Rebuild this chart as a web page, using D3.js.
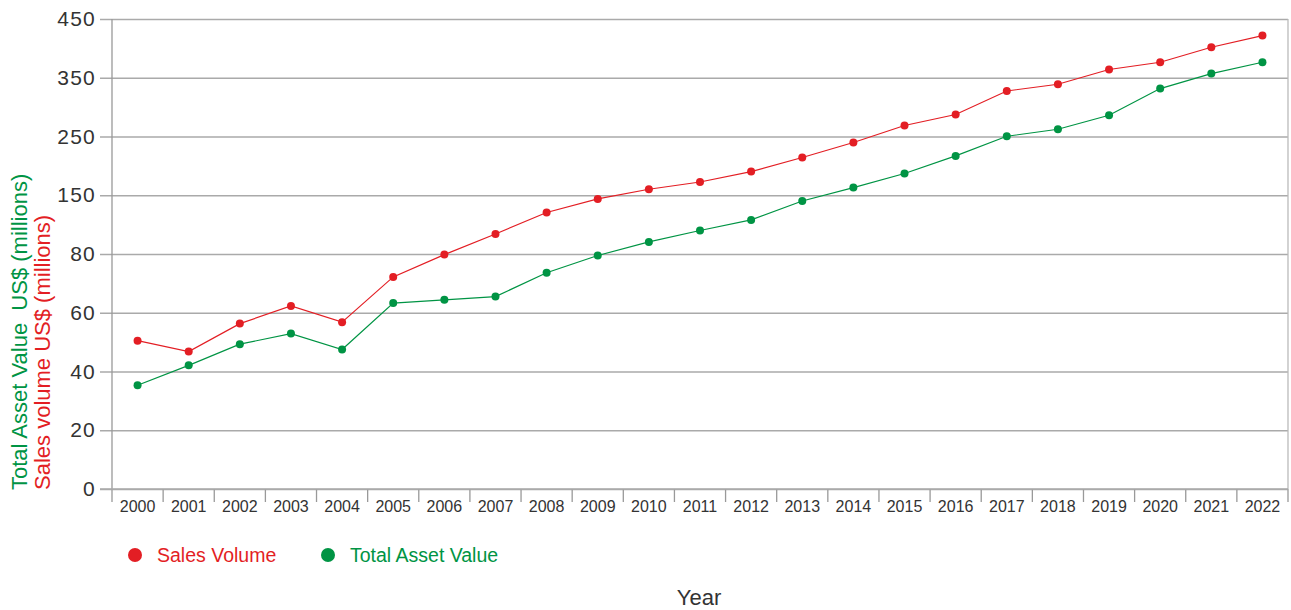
<!DOCTYPE html>
<html>
<head>
<meta charset="utf-8">
<script src="https://cdn.jsdelivr.net/npm/d3@7"></script>
<style>
  body { margin: 0; background: #fff; }
  svg { display: block; font-family: "Liberation Sans", Arial, sans-serif; }
</style>
</head>
<body>
<svg id="chart" width="1291" height="610"></svg>
<script>
const years = ["2000","2001","2002","2003","2004","2005","2006","2007","2008","2009","2010","2011","2012","2013","2014","2015","2016","2017","2018","2019","2020","2021","2022"];
const salesVolume = [50.5, 46.8, 56.3, 62.3, 56.8, 72.2, 79.8, 103.9, 129.4, 145.6, 160.2, 172.6, 190.3, 214.2, 239.8, 268.8, 287.4, 327.5, 338.9, 364, 376.4, 401.9, 421.8];
const totalAssetValue = [35.3, 42.1, 49.3, 52.9, 47.5, 63.3, 64.4, 65.5, 73.6, 79.5, 94.4, 108, 120.6, 143.2, 163.1, 187, 217, 250.4, 262.3, 286.2, 331.6, 357.1, 376.4];
const yTicks = [0, 20, 40, 60, 80, 150, 250, 350, 450];
const seriesNames = ["Sales Volume", "Total Asset Value"];
const yTitles = ["Total Asset Value  US$ (millions)", "Sales volume US$ (millions)"];
const xTitle = "Year";

const RED = "#e31e24", GREEN = "#009444";
const svg = d3.select("#chart");
const L = 112, R = 1288, T = 19, B = 489;
const step = (B - T) / (yTicks.length - 1);

const x = d3.scaleBand().domain(years).range([L, R]).padding(0);
const y = d3.scaleLinear().domain(yTicks).range(yTicks.map((d, i) => B - i * step));

// gridlines + y ticks
const yAxis = d3.axisLeft(y).tickValues(yTicks).tickSize(12).tickPadding(4).tickFormat(d3.format("d"));
const gy = svg.append("g").attr("transform", `translate(${L},0)`).call(yAxis);
gy.select(".domain").remove();
gy.selectAll(".tick line").attr("stroke", "#aaa").attr("stroke-width", 1.3)
  .attr("x1", -12).attr("x2", R - L);
gy.selectAll(".tick text").attr("fill", "#333").attr("font-size", 21).attr("letter-spacing", 1.2)
  .attr("x", -16).attr("font-family", "'Liberation Sans', Arial, sans-serif");

// x axis labels
const xAxis = d3.axisBottom(x).tickSize(0).tickPadding(12);
const gx = svg.append("g").attr("transform", `translate(0,${B})`).call(xAxis);
gx.select(".domain").remove();
gx.selectAll(".tick text").attr("fill", "#333").attr("font-size", 16)
  .attr("font-family", "'Liberation Sans', Arial, sans-serif");

// x boundary ticks
const bounds = years.map(d => x(d)).concat([x(years[years.length - 1]) + x.bandwidth()]);
svg.append("g").selectAll("line").data(bounds).join("line")
  .attr("x1", d => d).attr("x2", d => d).attr("y1", B).attr("y2", B + 13)
  .attr("stroke", "#999").attr("stroke-width", 1.3);

// axes lines
svg.append("line").attr("x1", L).attr("x2", L).attr("y1", T).attr("y2", B)
  .attr("stroke", "#999").attr("stroke-width", 1.3);
svg.append("line").attr("x1", R).attr("x2", R).attr("y1", T).attr("y2", B)
  .attr("stroke", "#bbb").attr("stroke-width", 1.3);
svg.append("line").attr("x1", L - 12).attr("x2", R).attr("y1", B).attr("y2", B)
  .attr("stroke", "#aaa").attr("stroke-width", 1.6);

// series
const cx = d => x(d) + x.bandwidth() / 2;
const series = [
  { name: seriesNames[0], values: salesVolume, color: RED },
  { name: seriesNames[1], values: totalAssetValue, color: GREEN }
];
const line = d3.line().x((d, i) => cx(years[i])).y(d => y(d));
series.forEach(s => {
  svg.append("path").datum(s.values).attr("d", line)
    .attr("fill", "none").attr("stroke", s.color).attr("stroke-width", 1.2);
  svg.append("g").selectAll("circle").data(s.values).join("circle")
    .attr("cx", (d, i) => cx(years[i])).attr("cy", d => y(d)).attr("r", 4)
    .attr("fill", s.color);
});

// y titles
svg.append("text").attr("transform", "translate(27,490) rotate(-90)")
  .attr("fill", GREEN).attr("font-size", 22).attr("xml:space", "preserve")
  .style("white-space", "pre").text(yTitles[0]);
svg.append("text").attr("transform", "translate(50,490) rotate(-90)")
  .attr("fill", RED).attr("font-size", 22).text(yTitles[1]);

// legend
const legX = [135, 328];
series.forEach((s, i) => {
  svg.append("circle").attr("cx", legX[i]).attr("cy", 555).attr("r", 7).attr("fill", s.color);
  svg.append("text").attr("x", legX[i] + 22).attr("y", 562).attr("fill", s.color)
    .attr("font-size", 19.5).text(s.name);
});

// x title
svg.append("text").attr("x", 699).attr("y", 605).attr("text-anchor", "middle")
  .attr("fill", "#333").attr("font-size", 22).text(xTitle);
</script>
</body>
</html>
